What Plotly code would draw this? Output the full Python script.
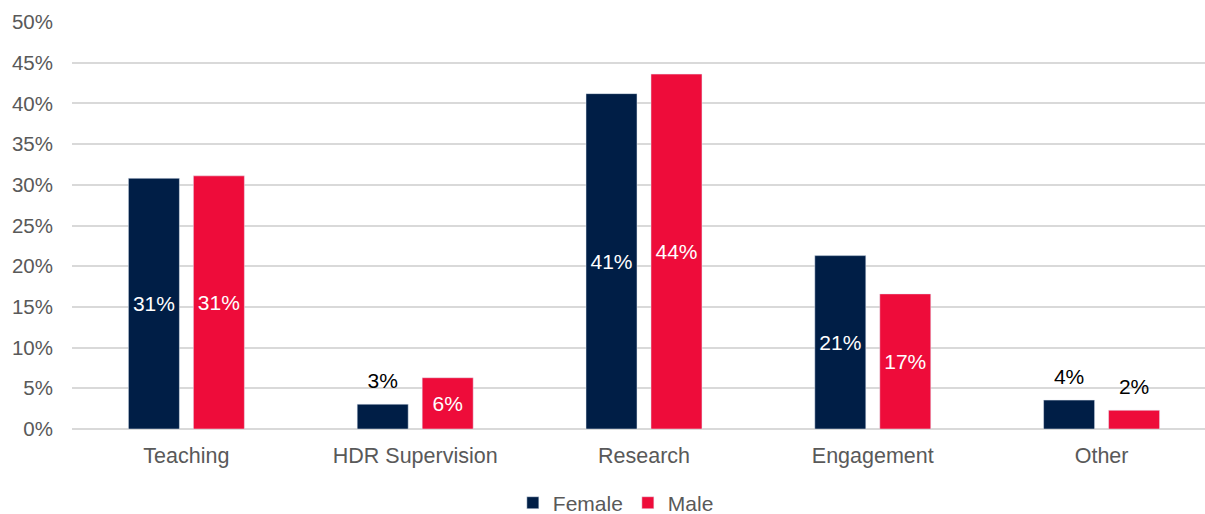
import plotly.graph_objects as go

categories = ["Teaching", "HDR Supervision", "Research", "Engagement", "Other"]
female = [30.8, 3.05, 41.2, 21.3, 3.55]
male = [31.1, 6.3, 43.6, 16.6, 2.3]
female_pos = ["inside", "outside", "inside", "inside", "outside"]
male_pos = ["inside", "inside", "inside", "inside", "outside"]
tick_vals = [0, 5, 10, 15, 20, 25, 30, 35, 40, 45, 50]
tick_text = [f"{v}%" for v in tick_vals]

FEMALE_C = "#001E46"
MALE_C = "#EE0C3A"
FONT = "Liberation Sans, Arial, sans-serif"


def label(v):
    return f"{round(v)}%"


fig = go.Figure()
for name, vals, pos, col, grp in [("Female", female, female_pos, FEMALE_C, "f"),
                                   ("Male", male, male_pos, MALE_C, "m")]:
    fig.add_trace(go.Bar(
        name=name, x=categories, y=vals, marker_color=col, offsetgroup=grp,
        text=[label(v) if p == "inside" else "" for v, p in zip(vals, pos)],
        textposition="inside", insidetextanchor="middle", textangle=0,
        textfont=dict(family=FONT, size=21, color="#FFFFFF"),
        hoverinfo="skip",
    ))
    # labels that sit above the short bars
    fig.add_trace(go.Scatter(
        x=categories, y=vals, offsetgroup=grp, mode="markers+text",
        marker=dict(size=16, opacity=0, color=col),
        text=[label(v) if p == "outside" else "" for v, p in zip(vals, pos)],
        textposition="top center",
        textfont=dict(family=FONT, size=21, color="#000000"),
        showlegend=False, hoverinfo="skip", cliponaxis=False,
    ))

fig.update_layout(
    width=1205, height=514,
    margin=dict(l=72, r=0, t=22, b=85, autoexpand=False),
    paper_bgcolor="white", plot_bgcolor="white",
    barmode="group", bargap=0.432, bargroupgap=0.215,
    scattermode="group", scattergap=0.432,
    font=dict(family=FONT, color="#595959", size=21),
    legend=dict(orientation="h", x=0.480, xanchor="center", y=-0.182, yanchor="middle",
                font=dict(size=21, color="#595959"), itemwidth=30, traceorder="normal"),
    showlegend=True,
)
fig.update_xaxes(
    range=[-0.5, 4.452], showgrid=False, showline=False, zeroline=False,
    ticks="", ticklabelstandoff=11, automargin=False,
    tickfont=dict(size=21.5, color="#595959"),
)
fig.update_yaxes(
    range=[0, 50], tickvals=tick_vals, ticktext=tick_text,
    showgrid=True, gridcolor="#D9D9D9", gridwidth=1.5,
    zeroline=True, zerolinecolor="#D9D9D9", zerolinewidth=1.5,
    showline=False, ticks="", ticklabelstandoff=18, automargin=False,
    tickfont=dict(size=20.5, color="#595959"),
)

# remove the default page margin so the figure fills the window exactly
fig.write_html(
    "out.html",
    config={"displayModeBar": False},
    post_script="document.body.style.margin='0';document.body.style.overflow='hidden';",
)
